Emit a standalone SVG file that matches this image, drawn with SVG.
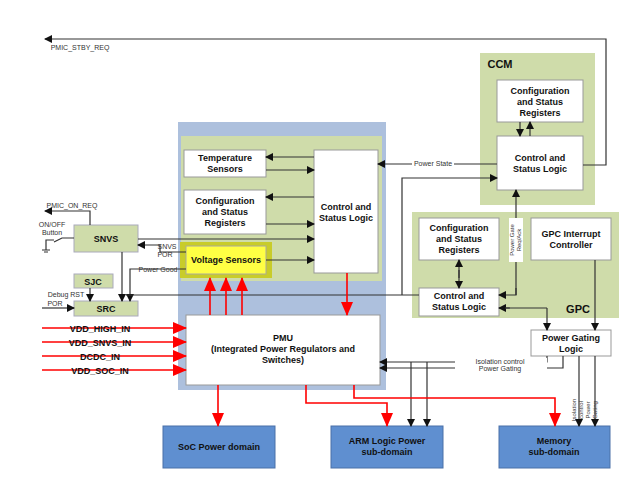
<svg xmlns="http://www.w3.org/2000/svg" width="633" height="488" viewBox="0 0 633 488">
<defs>
<marker id="a" markerWidth="8" markerHeight="8" refX="7" refY="4" orient="auto" markerUnits="userSpaceOnUse"><path d="M0,0 L8,4 L0,8 z" fill="#111"/></marker>
<marker id="r" markerWidth="14" markerHeight="12" refX="13" refY="6" orient="auto" markerUnits="userSpaceOnUse"><path d="M0,0 L14,6 L0,12 z" fill="#f00"/></marker>
<style>
text{font-family:"Liberation Sans",Arial,sans-serif;font-weight:bold;font-size:9px;fill:#111;text-anchor:middle}
.s{font-weight:normal;font-size:7px;fill:#333}
.w{fill:#fff;stroke:#999;stroke-width:1}
.g{fill:#cfdcaa}
.b{fill:#5f8fd0;stroke:#4a70a8}
.l{fill:none;stroke:#333;stroke-width:1.2}
.k{marker-end:url(#a)}
.rd{fill:none;stroke:#f00;stroke-width:1.6;marker-end:url(#r)}
</style>
</defs>
<rect width="633" height="488" fill="#fff"/>
<g id="pmu-region"><rect x="178" y="122" width="208" height="268" fill="#adc0dd"/><rect x="181" y="136" width="201" height="145" class="g"/></g>
<g id="ccm"><rect x="480" y="53" width="115" height="152" class="g"/><text x="500" y="68" style="font-size:11px">CCM</text></g>
<g id="gpc"><rect x="412" y="212" width="207" height="106" class="g"/><text x="578" y="313" style="font-size:11px">GPC</text></g>
<g id="temp"><rect x="184" y="150" width="82" height="27" class="w"/><text x="225" y="161">Temperature</text><text x="225" y="172">Sensors</text></g>
<g id="cfg1"><rect x="184" y="190" width="82" height="44" class="w"/><text x="225" y="204">Configuration</text><text x="225" y="215">and Status</text><text x="225" y="226">Registers</text></g>
<g id="ctl1"><rect x="314" y="150" width="64" height="123" class="w"/><text x="346" y="210">Control and</text><text x="346" y="221">Status Logic</text></g>
<g id="volt"><rect x="180" y="242" width="92" height="36" fill="#c8cc2a"/><rect x="186" y="246" width="80" height="28" fill="#ffff44" stroke="#aa9"/><text x="226" y="263">Voltage Sensors</text></g>
<g id="pmu"><rect x="186" y="315" width="194" height="70" class="w"/><text x="283" y="341">PMU</text><text x="283" y="352">(Integrated Power Regulators and</text><text x="283" y="363">Switches)</text></g>
<g id="cfg2"><rect x="497" y="80" width="86" height="42" class="w"/><text x="540" y="94">Configuration</text><text x="540" y="105">and Status</text><text x="540" y="116">Registers</text></g>
<g id="ctl2"><rect x="497" y="136" width="86" height="54" class="w"/><text x="540" y="161">Control and</text><text x="540" y="172">Status Logic</text></g>
<g id="cfg3"><rect x="419" y="218" width="80" height="42" class="w"/><text x="459" y="231">Configuration</text><text x="459" y="242">and Status</text><text x="459" y="253">Registers</text></g>
<g id="gic"><rect x="531" y="218" width="80" height="42" class="w"/><text x="571" y="237">GPC Interrupt</text><text x="571" y="248">Controller</text></g>
<g id="ctl3"><rect x="419" y="288" width="80" height="28" class="w"/><text x="459" y="299">Control and</text><text x="459" y="310">Status Logic</text></g>
<g id="pgl"><rect x="531" y="330" width="80" height="26" class="w"/><text x="571" y="341">Power Gating</text><text x="571" y="352">Logic</text></g>
<g id="snvs"><rect x="74" y="225" width="64" height="27" class="g" stroke="#aab"/><text x="106" y="242">SNVS</text></g>
<g id="sjc"><rect x="74" y="274" width="39" height="14" class="g" stroke="#aab"/><text x="93" y="285">SJC</text></g>
<g id="src"><rect x="74" y="301" width="64" height="15" class="g" stroke="#aab"/><text x="106" y="312">SRC</text></g>
<g id="soc"><rect x="163" y="426" width="112" height="42" class="b"/><text x="219" y="450">SoC Power domain</text></g>
<g id="arm"><rect x="331" y="426" width="112" height="42" class="b"/><text x="387" y="444">ARM Logic Power</text><text x="387" y="455">sub-domain</text></g>
<g id="mem"><rect x="499" y="426" width="111" height="42" class="b"/><text x="554" y="444">Memory</text><text x="554" y="455">sub-domain</text></g>
<g id="connectors">
<path class="l k" d="M583,165 H606 V39 H45"/>
<text class="s" x="80" y="50">PMIC_STBY_REQ</text>
<path class="l k" d="M497,164 H378"/>
<rect x="412" y="159" width="42" height="9" fill="#fff"/><text class="s" x="433" y="166">Power State</text>
<path class="l k" d="M402,295 V178 H497"/>
<path class="l k" d="M520,122 V136"/><path class="l k" d="M530,136 V122"/>
<path class="l k" d="M516,295 V190"/><path class="l k" d="M516,288 V295 H499"/>
<rect x="509" y="218" width="14" height="44" fill="#fff"/>
<text class="s" transform="translate(514,240) rotate(-90)" style="font-size:6px">Power Gate</text>
<text class="s" transform="translate(521,240) rotate(-90)" style="font-size:6px">Req/Ack</text>
<path class="l k" d="M459,270 V288"/><path class="l k" d="M459,278 V260"/>
<path class="l k" d="M547,308 V330"/><path class="l k" d="M510,308 H499"/><path class="l" d="M505,308 H547"/>
<path class="l k" d="M595,260 V330"/>
<path class="l k" d="M547,356 V362 H380"/><path class="l k" d="M563,356 V368 H380"/>
<rect x="455" y="358" width="92" height="14" fill="#fff"/>
<text class="s" x="500" y="364">Isolation control</text><text class="s" x="500" y="371">Power Gating</text>
<path class="l k" d="M411,362 V426"/><path class="l k" d="M427,362 V426"/>
<path class="l k" d="M579,356 V426"/><path class="l k" d="M595,356 V426"/>
<text class="s" transform="translate(576,410) rotate(-90)" style="font-size:6px">Isolation</text>
<text class="s" transform="translate(583,410) rotate(-90)" style="font-size:6px">control</text>
<text class="s" transform="translate(590,410) rotate(-90)" style="font-size:6px">Power</text>
<text class="s" transform="translate(597,410) rotate(-90)" style="font-size:6px">Gating</text>
<path class="l k" d="M314,157 H266"/><path class="l k" d="M266,170 H314"/>
<path class="l k" d="M314,197 H266"/><path class="l k" d="M266,224 H314"/>
<path class="l k" d="M138,239 H314"/><path class="l k" d="M266,260 H314"/>
<path class="l k" d="M186,252 H160 V245 H138"/>
<text class="s" x="167" y="249">SNVS</text><text class="s" x="165" y="257">POR</text>
<path class="l k" d="M186,269 H130 V301"/>
<text class="s" x="158" y="272">Power Good</text>
<path class="l k" d="M122,252 V301"/>
<path class="l" d="M126,295 H419"/>
<path class="l k" d="M90,288 V301"/>
<text class="s" x="66" y="297">Debug RST</text>
<path class="l k" d="M42,308 H74"/><text class="s" x="55" y="306">POR</text>
<path class="l k" d="M90,225 V211 H45"/>
<text class="s" x="72" y="208">PMIC_ON_REQ</text>
<text class="s" x="52" y="227">ON/OFF</text><text class="s" x="52" y="235">Button</text>
<path class="l" d="M74,238 H62 L54,242 M54,240 H46 V250 M42,250 H50 M44,252 H48"/>
<path class="rd" d="M42,328 H186"/><path class="rd" d="M42,342 H186"/><path class="rd" d="M42,356 H186"/><path class="rd" d="M42,370 H186"/>
<text x="100" y="332">VDD_HIGH_IN</text><text x="100" y="346">VDD_SNVS_IN</text><text x="100" y="360">DCDC_IN</text><text x="100" y="374">VDD_SOC_IN</text>
<path class="rd" d="M210,315 V278"/><path class="rd" d="M226,315 V278"/><path class="rd" d="M242,315 V278"/>
<path class="rd" d="M347,273 V315"/>
<path class="rd" d="M218,385 V426"/>
<path class="rd" d="M306,385 V403 H387 V426"/>
<path class="rd" d="M354,385 V398 H555 V426"/>
</g>
</svg>
